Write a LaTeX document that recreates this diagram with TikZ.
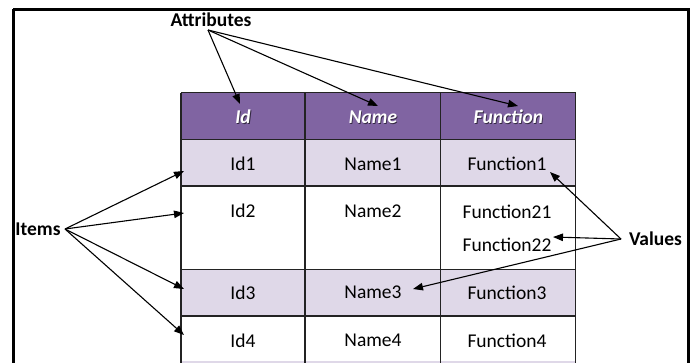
\documentclass[tikz,border=0pt]{standalone}
\usepackage{fontspec}
\setmainfont{Carlito}
\usetikzlibrary{arrows.meta}
\definecolor{hdr}{RGB}{128,100,162}
\definecolor{lite}{RGB}{223,216,232}
\definecolor{gridc}{RGB}{35,35,35}
\begin{document}
\begin{tikzpicture}[x=1pt,y=-1pt,
  txt/.style={font=\fontsize{19.5}{22}\selectfont, inner sep=0pt, anchor=center},
  hd/.style={font=\fontsize{19.5}{22}\selectfont\bfseries\itshape, text=white, inner sep=0pt},
  hdsh/.style={font=\fontsize{19.5}{22}\selectfont\bfseries\itshape, text=hdr!40!black, inner sep=0pt},
  lbl/.style={font=\fontsize{19.5}{22}\selectfont\bfseries, inner sep=0pt},
  arr/.style={-{Triangle[length=10pt,width=7.5pt]}, line width=1.1pt},
  gridline/.style={draw=gridc, line width=1.4pt}]
\useasboundingbox (0,0) rectangle (696,362);
% frame
\draw[line width=3pt] (13,9) -- (688,9) -- (688,380) (13,9) -- (13,380);
% table fills
\fill[hdr] (181,92.7) rectangle (575.7,139.3);
\fill[lite] (181,139.3) rectangle (575.7,186);
\fill[lite] (181,269.3) rectangle (575.7,316);
\fill[lite] (181,361) rectangle (575.7,380);
% grid
\foreach \yy in {92.7,139.3,186,269.3,316}
  \draw[gridline] (181,\yy) -- (575.7,\yy);
\foreach \xx in {181,305,440.7,575.7}
  \draw[gridline] (\xx,92.7) -- (\xx,380);
% header
\node[hdsh] at (243.8,117.8) {Id};
\node[hdsh] at (373.8,117.8) {Name};
\node[hdsh] at (509.2,117.8) {Function};
\node[hd] (hid) at (243,117) {Id};
\node[hd] (hname) at (373,117) {Name};
\node[hd] (hfun) at (508.4,117) {Function};
% cells
\node[txt] (id1) at (243,164) {Id1};
\node[txt] (n1) at (373,164) {Name1};
\node[txt] (f1) at (507,164) {Function1};
\node[txt] (id2) at (243,211) {Id2};
\node[txt] (n2) at (373,211) {Name2};
\node[txt] (f21) at (507,211.5) {Function21};
\node[txt] (f22) at (507,244.5) {Function22};
\node[txt] (id3) at (243,292.7) {Id3};
\node[txt] (n3) at (373,292.7) {Name3};
\node[txt] (f3) at (507,292.7) {Function3};
\node[txt] (id4) at (243,340.5) {Id4};
\node[txt] (n4) at (373,340.5) {Name4};
\node[txt] (f4) at (507,340.5) {Function4};
% labels
\node[lbl] (attr) at (211,20) {Attributes};
\node[lbl] (items) at (38,229.7) {Items};
\node[lbl] (vals) at (655.5,238.5) {Values};
% connector points
\coordinate (ao) at (208,30);
\coordinate (io) at (65,229);
\coordinate (vo) at (621,239);
\coordinate (tid) at (240,104);
\coordinate (tname) at (378,106);
\coordinate (tfun) at (518,106);
\coordinate (tr1) at (184,171);
\coordinate (tr2) at (184,213);
\coordinate (tr3) at (184,289);
\coordinate (tr4) at (184,335);
\coordinate (tf1) at (550,172);
\coordinate (tf22) at (553,237);
\coordinate (tn3) at (413,289);
% arrows
\draw[arr] (ao) -- (tid);
\draw[arr] (ao) -- (tname);
\draw[arr] (ao) -- (tfun);
\draw[arr] (io) -- (tr1);
\draw[arr] (io) -- (tr2);
\draw[arr] (io) -- (tr3);
\draw[arr] (io) -- (tr4);
\draw[arr] (vo) -- (tf1);
\draw[arr] (vo) -- (tf22);
\draw[arr] (vo) -- (tn3);
\end{tikzpicture}
\end{document}
